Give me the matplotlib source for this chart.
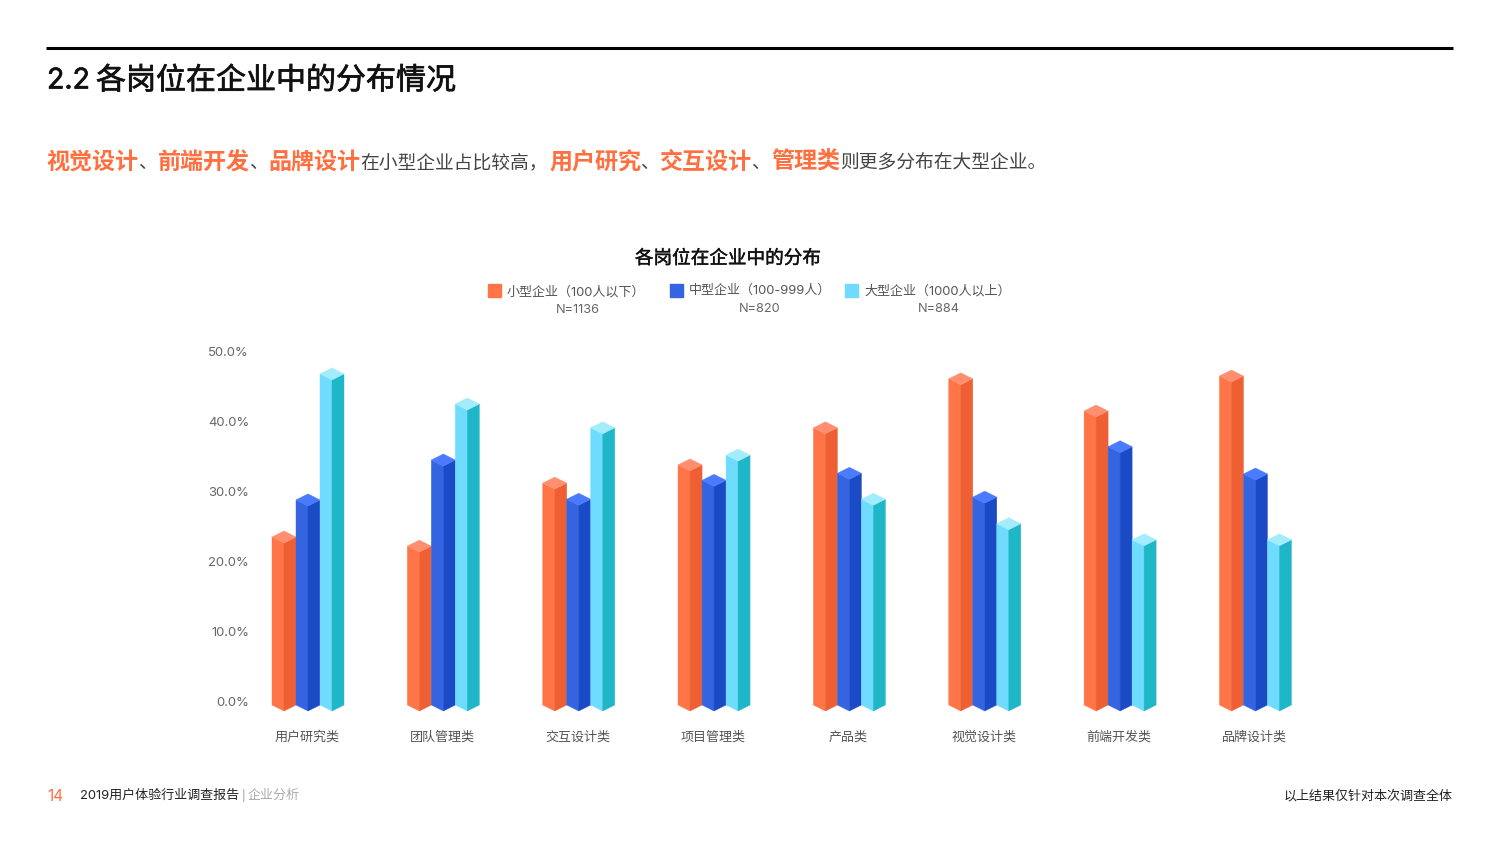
import matplotlib
matplotlib.use('Agg')
from matplotlib import pyplot as plt
from matplotlib import patheffects
from matplotlib.transforms import ScaledTranslation

plt.rcParams['font.family'] = ['Inter', 'Noto Sans CJK SC', 'DejaVu Sans']

categories = ['用户研究类', '团队管理类', '交互设计类', '项目管理类', '产品类', '视觉设计类', '前端开发类', '品牌设计类']
small_co = [24.0, 22.7, 31.7, 34.3, 39.6, 46.6, 42.0, 47.0]
medium_co = [29.3, 35.0, 29.4, 32.1, 33.1, 29.7, 36.9, 33.0]
large_co = [47.3, 43.0, 39.6, 35.7, 29.4, 25.9, 23.6, 23.6]
y_ticks = [0, 10, 20, 30, 40, 50]
legend_names = ['小型企业（100人以下）', '中型企业（100-999人）', '大型企业（1000人以上）']
legend_n = ['N=1136', 'N=820', 'N=884']

W, H = 1500, 851
# pixel scale of the chart: 135.35 px per category, 7 px per percent
px_x = 135.35
px_y = 7.0
half = 12 / px_x
depth = 6 / px_y

# (left face, right face, top face)
colours = [('#FF7547', '#EE5F33', '#FF8F6F'),
           ('#3564E0', '#1A4AC6', '#4A7BFF'),
           ('#6FDCFF', '#1FB6C8', '#A2ECFB')]

# fake medium weight, the CJK font only comes in regular and bold here
medium = [patheffects.withStroke(linewidth=0.5, foreground='#111111')]
medium_thin = [patheffects.withStroke(linewidth=0.3, foreground='#111111')]


def fx(x):
    return x / W


def fy(y):
    return 1 - y / H


def page_text(x, y, s, **kw):
    kw.setdefault('va', 'center')
    # va center sits about 2 px high for this font mix
    fig.text(fx(x), fy(y + 2), s, **kw)


def bar3d(ax, x, v, cols):
    # isometric column, v is read at the front edge
    ax.fill([x - half, x, x, x - half], [depth, 0, v, v + depth], color=cols[0], lw=0.3)
    ax.fill([x, x + half, x + half, x], [0, depth, v + depth, v], color=cols[1], lw=0.3)
    ax.fill([x - half, x, x + half, x], [v + depth, v, v + depth, v + 2 * depth], color=cols[2], lw=0.3)


fig = plt.figure(figsize=(W / 100, H / 100), dpi=100, facecolor='white')

# chart area
ax_left, ax_right, ax_top, ax_bottom = 200, 1320, 340, 720
ax = fig.add_axes([fx(ax_left), fy(ax_bottom), (ax_right - ax_left) / W, (ax_bottom - ax_top) / H])
ax.set_xlim((ax_left - 308) / px_x, (ax_right - 308) / px_x)
ax.set_ylim((711 - ax_bottom) / px_y, (711 - ax_top) / px_y)

for i in range(len(categories)):
    bar3d(ax, i - 2 * half, small_co[i], colours[0])
    bar3d(ax, i, medium_co[i], colours[1])
    bar3d(ax, i + 2 * half, large_co[i], colours[2])

for s in ax.spines.values():
    s.set_visible(False)
ax.set_xticks(range(len(categories)))
ax.set_xticklabels(categories, fontsize=9.4, color='#555555')
ax.set_yticks(y_ticks)
ax.set_yticklabels([f'{t:.1f}%' for t in y_ticks], fontsize=9.4, color='#666666')
ax.tick_params(axis='x', length=0, pad=8)
ax.tick_params(axis='y', length=0, pad=-35.3)
# labels on the y axis sit 10 px above the front corner of the base
shift = ScaledTranslation(0, 9.5 / 100, fig.dpi_scale_trans)
for lab in ax.get_yticklabels():
    lab.set_transform(lab.get_transform() + shift)
shift_x = ScaledTranslation(-1.2 / 100, 0, fig.dpi_scale_trans)
for lab in ax.get_xticklabels():
    lab.set_transform(lab.get_transform() + shift_x)

# top rule and heading
fig.add_artist(plt.Line2D([fx(46), fx(1453)], [fy(48), fy(48)], color='black', lw=2.2, solid_capstyle='butt'))
page_text(47, 79, '2.2', fontsize=20.5, color='#111111', path_effects=medium)
page_text(96, 79, '各岗位在企业中的分布情况', fontsize=21.6, color='#111111', path_effects=medium)

# sub heading, runs of different colour
orange = '#FF6F3F'
grey = '#444444'
runs = [(46, '视觉设计', True), (138, '、', False), (158, '前端开发', True), (249, '、', False),
        (268.5, '品牌设计', True), (360.5, '在小型企业占比较高，', False), (549, '用户研究', True),
        (640.5, '、', False), (660, '交互设计', True), (751.5, '、', False), (771, '管理类', True),
        (840, '则更多分布在大型企业。', False)]
for x, s, strong in runs:
    if strong:
        page_text(x, 161, s, fontsize=16.6, color=orange, weight='bold')
    else:
        page_text(x, 161, s, fontsize=13.5, color=grey)

# chart title and legend
page_text(728, 257, '各岗位在企业中的分布', fontsize=13.4, color='#111111', ha='center', path_effects=medium_thin)
legend_sq = [488, 670, 845]
legend_tx = [507, 689, 864]
legend_nx = [578, 760, 939]
legend_y = [290, 289, 289]
legend_ny = [308, 307, 307]
for i in range(3):
    fig.add_artist(plt.Rectangle((fx(legend_sq[i]), fy(297)), 13 / W, 13 / H, color=colours[i][0],
                                 transform=fig.transFigure))
    page_text(legend_tx[i], legend_y[i], legend_names[i], fontsize=9.4, color='#555555')
    page_text(legend_nx[i], legend_ny[i], legend_n[i], fontsize=9.2, color='#666666', ha='center')

# footer
page_text(47, 794.5, '14', fontsize=11, color=orange)
page_text(80, 794, '2019用户体验行业调查报告', fontsize=9.4, color='#222222')
page_text(242, 794, '|', fontsize=8, color='#999999')
page_text(248, 794, '企业分析', fontsize=9.4, color='#AAAAAA')
page_text(1453, 794, '以上结果仅针对本次调查全体', fontsize=9.4, color='#222222', ha='right')

fig.savefig('out.png', dpi=100)
